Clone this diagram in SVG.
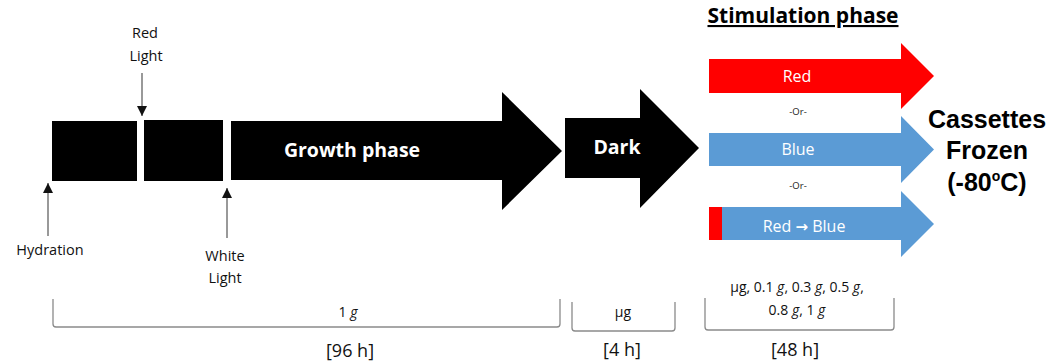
<svg xmlns="http://www.w3.org/2000/svg" width="1052" height="363" viewBox="0 0 1052 363">
  <style>
    text { font-family: "Open Sans", "Liberation Sans", "DejaVu Sans", sans-serif; }
    .lbl { font-size: 14.5px; fill: #111; text-anchor: middle; }
    .inw { fill: #fff; text-anchor: middle; }
    .big { font-size: 19.5px; font-weight: bold; }
    .stim { font-size: 16px; }
    .or { font-size: 9.5px; fill: #222; text-anchor: middle; }
    .cas { font-family: "Liberation Sans", Arial, sans-serif; font-size: 25px; font-weight: bold; fill: #000; text-anchor: middle; }
    .dose { font-size: 14px; fill: #111; text-anchor: middle; }
    .dur { font-size: 18px; fill: #111; text-anchor: middle; }
    .ptr { stroke: #555; stroke-width: 1.2; fill: none; }
    .brk { stroke: #8a8a8a; stroke-width: 1.3; fill: none; }
    .black { fill: #000; }
    .red { fill: #ff0000; }
    .blue { fill: #5b9bd5; }
  </style>
  <defs>
    <marker id="tri" viewBox="0 0 10 10" refX="10" refY="5" markerWidth="10" markerHeight="10" markerUnits="userSpaceOnUse" orient="auto">
      <path d="M0,0 L10,5 L0,10 Z" fill="#111"/>
    </marker>
  </defs>

  <rect width="1052" height="363" fill="#fff"/>

  <!-- growth period blocks -->
  <g id="block-hydration">
    <rect class="black" x="52" y="121" width="85" height="60"/>
  </g>
  <g id="block-red-light">
    <rect class="black" x="144" y="120" width="79" height="61"/>
  </g>
  <g id="growth-phase">
    <path class="black" d="M231,121 L502,121 L502,92 L562,151 L502,210 L502,180 L231,180 Z"/>
    <text class="inw big" x="352" y="157">Growth phase</text>
  </g>
  <g id="dark-phase">
    <path class="black" d="M565,118 L640,118 L640,89 L699,148 L640,208 L640,178 L565,178 Z"/>
    <text class="inw big" x="617" y="154">Dark</text>
  </g>

  <!-- stimulation options -->
  <g id="stimulation-title">
    <text x="803" y="23" font-size="21" font-weight="bold" fill="#000" text-anchor="middle" text-decoration="underline">Stimulation phase</text>
  </g>
  <g id="stim-red">
    <path class="red" d="M709,59 L901,59 L901,43 L934,76 L901,109 L901,93 L709,93 Z"/>
    <text class="inw stim" x="797" y="82">Red</text>
  </g>
  <g id="or-1"><text class="or" x="798" y="115">-Or-</text></g>
  <g id="stim-blue">
    <path class="blue" d="M709,133 L901,133 L901,116 L934,149.5 L901,183 L901,166 L709,166 Z"/>
    <text class="inw stim" x="798" y="155">Blue</text>
  </g>
  <g id="or-2"><text class="or" x="798" y="189">-Or-</text></g>
  <g id="stim-red-blue">
    <path class="blue" d="M709,207 L901,207 L901,191 L934,224 L901,257 L901,240 L709,240 Z"/>
    <rect class="red" x="709" y="207" width="13" height="33"/>
    <text class="inw stim" x="804" y="232">Red <tspan font-family="DejaVu Sans, sans-serif" font-size="15" font-weight="bold">→</tspan> Blue</text>
  </g>
  <g id="cassettes-frozen">
    <text class="cas" x="987" y="128">Cassettes</text>
    <text class="cas" x="987" y="159">Frozen</text>
    <text class="cas" x="987" y="191">(-80<tspan font-size="14" dy="-10">o</tspan><tspan dy="10">C)</tspan></text>
  </g>

  <!-- event labels -->
  <g id="label-red-light">
    <text class="lbl" x="145" y="38">Red</text>
    <text class="lbl" x="146" y="61">Light</text>
  </g>
  <g id="label-hydration">
    <text class="lbl" x="50" y="255">Hydration</text>
  </g>
  <g id="label-white-light">
    <text class="lbl" x="225" y="261">White</text>
    <text class="lbl" x="225" y="283">Light</text>
  </g>

  <!-- timing brackets and labels -->
  <g id="bracket-growth">
    <path class="brk" d="M53,299 L53,324 Q53,327 56,327 L557,327 Q560,327 560,324 L560,299"/>
    <text class="dose" x="348" y="317">1 <tspan font-style="italic">g</tspan></text>
    <text class="dur" x="350" y="357">[96 h]</text>
  </g>
  <g id="bracket-dark">
    <path class="brk" d="M572,302 L572,328 Q572,331 575,331 L672,331 Q675,331 675,328 L675,302"/>
    <text class="dose" x="623" y="317">µg</text>
    <text class="dur" x="622" y="356">[4 h]</text>
  </g>
  <g id="bracket-stimulation">
    <path class="brk" d="M705,298 L705,327 Q705,330 708,330 L891,330 Q894,330 894,327 L894,298"/>
    <text class="dose" x="797" y="292">µg, 0.1 <tspan font-style="italic">g</tspan>, 0.3 <tspan font-style="italic">g</tspan>, 0.5 <tspan font-style="italic">g</tspan>,</text>
    <text class="dose" x="797" y="315">0.8 <tspan font-style="italic">g</tspan>, 1 <tspan font-style="italic">g</tspan></text>
    <text class="dur" x="795" y="356">[48 h]</text>
  </g>

  <!-- pointer arrows -->
  <g id="connectors">
    <line class="ptr" x1="142" y1="73" x2="142" y2="116" marker-end="url(#tri)"/>
    <line class="ptr" x1="48" y1="236" x2="48" y2="183" marker-end="url(#tri)"/>
    <line class="ptr" x1="227" y1="238" x2="227" y2="188" marker-end="url(#tri)"/>
  </g>
</svg>
